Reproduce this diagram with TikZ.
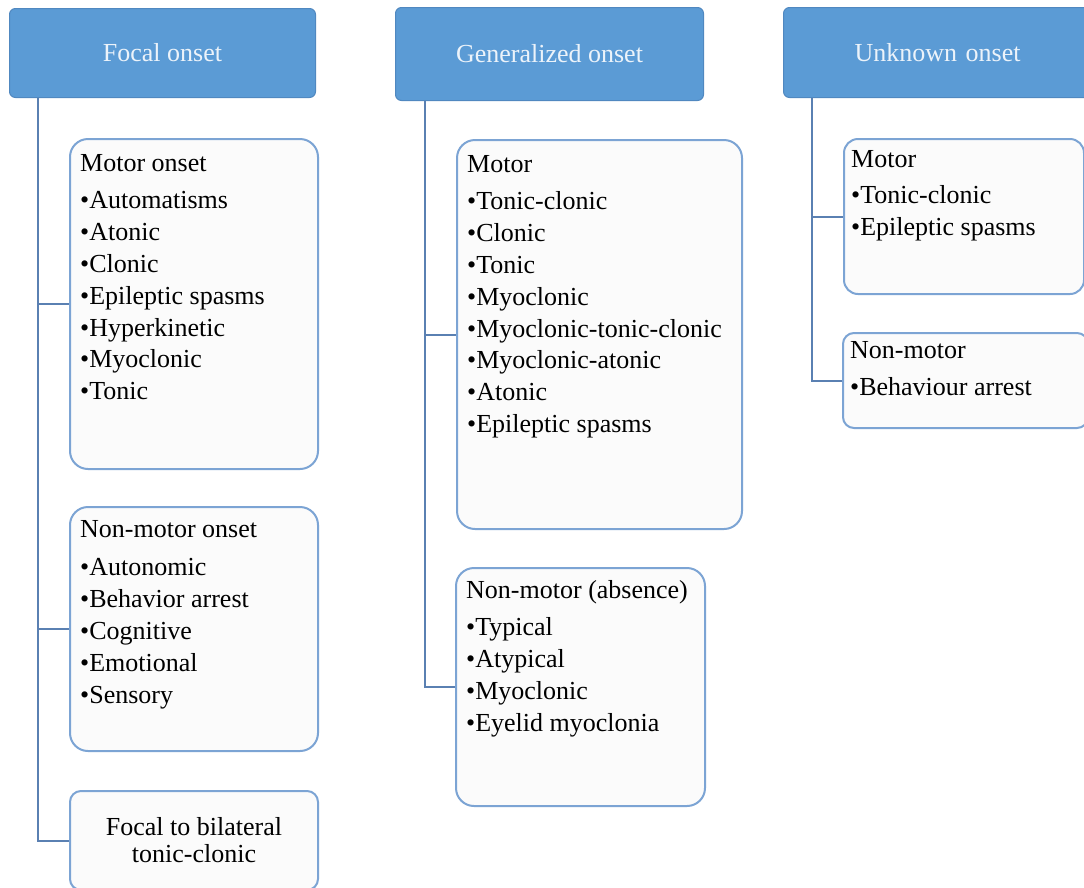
\documentclass[tikz,border=0pt]{standalone}
\usepackage{fontspec}
\setmainfont{Liberation Serif}
\usepackage{array}
\definecolor{hdrfill}{RGB}{91,155,213}
\definecolor{hdrline}{RGB}{80,136,192}
\definecolor{hdrtext}{RGB}{236,243,250}
\definecolor{boxline}{RGB}{124,164,212}
\definecolor{boxfill}{RGB}{251,251,251}
\definecolor{connline}{RGB}{90,128,178}
\tikzset{
  hdr/.style={draw=hdrline, line width=1pt, fill=hdrfill, rounded corners=6pt,
    anchor=north west, inner sep=0pt, text=hdrtext,
    font=\fontsize{26}{31}\selectfont},
  catbox/.style={draw=boxline, line width=2pt, fill=boxfill, rounded corners=18pt,
    anchor=north west, inner sep=0pt},
  smallbox/.style={catbox, rounded corners=11pt},
  itemlist/.style={anchor=base west, inner sep=0pt,
    font=\fontsize{26}{31.8}\selectfont},
  conn/.style={draw=connline, line width=2pt}
}
\newcommand{\catlist}[1]{\renewcommand{\arraystretch}{1}\begin{tabular}[t]{@{}l@{}}#1\end{tabular}}
\begin{document}
\begin{tikzpicture}[x=1pt, y=-1pt]
\useasboundingbox (0,0) rectangle (1084,887);
\clip (0,0) rectangle (1084,887);
\fill[white] (0,0) rectangle (1084,887);

% column headers
\node[hdr, minimum width=306, minimum height=89] (focal) at (9,8) {Focal onset};
\node[hdr, minimum width=308, minimum height=93] (gen) at (395,7) {Generalized onset};
\node[hdr, minimum width=307, minimum height=90, text width=301, align=left] (unk) at (783,7) {\hspace*{68pt}Unknown onset};

% focal onset branches
\node[catbox, minimum width=248, minimum height=330] (fmotor) at (69,138) {};
\node[itemlist] (fmotortxt) at (80,171) {\catlist{Motor onset\\[6pt]
  •Automatisms\\ •Atonic\\ •Clonic\\ •Epileptic spasms\\ •Hyperkinetic\\ •Myoclonic\\ •Tonic}};
\node[catbox, minimum width=248, minimum height=244] (fnon) at (69,506) {};
\node[itemlist] (fnontxt) at (80,537) {\catlist{Non-motor onset\\[7pt]
  •Autonomic\\ •Behavior arrest\\ •Cognitive\\ •Emotional\\ •Sensory}};
\node[smallbox, minimum width=248, minimum height=99, align=center,
  font=\fontsize{26}{27}\selectfont] (fbil) at (69,790) {Focal to bilateral\\tonic-clonic};

% generalized onset branches
\node[catbox, minimum width=285, minimum height=389] (gmotor) at (456,139) {};
\node[itemlist] (gmotortxt) at (467,172) {\catlist{Motor\\[6pt]
  •Tonic-clonic\\ •Clonic\\ •Tonic\\ •Myoclonic\\ •Myoclonic-tonic-clonic\\
  •Myoclonic-atonic\\ •Atonic\\ •Epileptic spasms}};
\node[catbox, minimum width=249, minimum height=238] (gabs) at (455,567) {};
\node[itemlist] (gabstxt) at (466,598) {\catlist{Non-motor (absence)\\[6pt]
  •Typical\\ •Atypical\\ •Myoclonic\\ •Eyelid myoclonia}};

% unknown onset branches
\node[smallbox, rounded corners=14pt, minimum width=240, minimum height=155] (umotor) at (843,138) {};
\node[itemlist] (umotortxt) at (851,167) {\catlist{Motor\\[5pt]
  •Tonic-clonic\\ •Epileptic spasms}};
\node[smallbox, minimum width=245, minimum height=95] (unon) at (842,332) {};
\node[itemlist] (unontxt) at (850,358) {\catlist{Non-motor\\[6pt]
  •Behaviour arrest}};

% trunk lines from each header to its branches
\coordinate (ftrunk) at ([xshift=29pt]focal.south west);
\coordinate (gtrunk) at ([xshift=30pt]gen.south west);
\coordinate (utrunk) at ([xshift=29pt]unk.south west);
\draw[conn] (ftrunk) |- (fmotor.west);
\draw[conn] (ftrunk) |- (fnon.west);
\draw[conn] (ftrunk) |- (fbil.west);
\draw[conn] (gtrunk) |- (gmotor.west);
\draw[conn] (gtrunk) |- (gabs.west);
\draw[conn] (utrunk) |- (umotor.west);
\draw[conn] (utrunk) |- (unon.west);
\end{tikzpicture}
\end{document}
